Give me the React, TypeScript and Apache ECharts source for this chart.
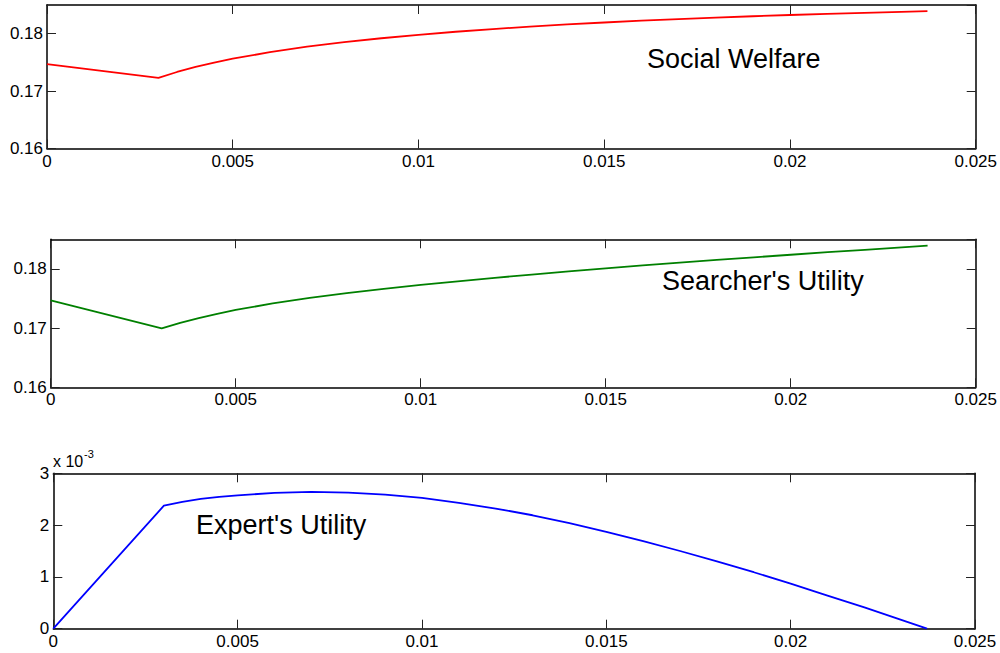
import React, { useEffect, useRef } from "react";
import * as echarts from "echarts";

// x values (cost parameter)
const xs = [0, 0.003, 0.0035, 0.004, 0.0045, 0.005, 0.006, 0.007, 0.008, 0.009, 0.010, 0.011, 0.012, 0.013, 0.014, 0.015, 0.016, 0.017, 0.018, 0.019, 0.020, 0.021, 0.022, 0.023, 0.0237];
const welfare = [0.17470, 0.17231, 0.17333, 0.17420, 0.17495, 0.17564, 0.17678, 0.17773, 0.17853, 0.17921, 0.17981, 0.18034, 0.18081, 0.18123, 0.18161, 0.18195, 0.18227, 0.18255, 0.18281, 0.18304, 0.18326, 0.18346, 0.18364, 0.18381, 0.18392];
const searcher = [0.17470, 0.16994, 0.17088, 0.17170, 0.17241, 0.17307, 0.17416, 0.17509, 0.17590, 0.17662, 0.17729, 0.17791, 0.17849, 0.17904, 0.17957, 0.18008, 0.18058, 0.18105, 0.18151, 0.18195, 0.18239, 0.18282, 0.18323, 0.18364, 0.18392];
const expert = [0, 0.002375, 0.00245, 0.002505, 0.002545, 0.002575, 0.002622, 0.00264, 0.002628, 0.00259, 0.002525, 0.00243, 0.00232, 0.00219, 0.00204, 0.00187, 0.00169, 0.00150, 0.00130, 0.00109, 0.00087, 0.00064, 0.00041, 0.00017, 0];

const labels = ["Social Welfare", "Searcher's Utility", "Expert's Utility"];
const colors = ["#ff0000", "#008000", "#0000ff"];

const FONT = "'Liberation Sans', Arial, Helvetica, sans-serif";

export default function App() {
  const ref = useRef<HTMLDivElement>(null);
  useEffect(() => {
    if (!ref.current) return;
    const chart = echarts.init(ref.current, null, { renderer: "svg" });
    const grids = [
      { left: 47, top: 5, width: 930, height: 143.5 },
      { left: 50.7, top: 239.3, width: 925, height: 148 },
      { left: 53.3, top: 473.3, width: 921.7, height: 155.4 },
    ];
    const yCfg = [
      { min: 0.16, max: 0.185, interval: 0.01, fmt: (v: number) => v.toFixed(2), showMax: false },
      { min: 0.16, max: 0.185, interval: 0.01, fmt: (v: number) => v.toFixed(2), showMax: false },
      { min: 0, max: 0.003, interval: 0.001, fmt: (v: number) => String(Math.round(v * 1000)), showMax: true },
    ];
    const lineStyle = { color: "#000", width: 1.5 };
    const tickStyle = { color: "#222", width: 1 };
    const xAxis: any[] = [];
    const yAxis: any[] = [];
    grids.forEach((g, i) => {
      ["bottom", "top"].forEach((pos, k) => {
        xAxis.push({
          type: "value",
          gridIndex: i,
          position: pos,
          min: 0,
          max: 0.025,
          interval: 0.005,
          axisLine: { show: true, onZero: false, lineStyle },
          axisTick: { show: true, inside: true, length: 9, lineStyle: tickStyle },
          axisLabel: {
            show: k === 0,
            margin: 4,
            fontSize: 17,
            color: "#000",
            fontFamily: FONT,
            formatter: (v: number) => String(parseFloat(v.toFixed(4))),
          },
          splitLine: { show: false },
        });
      });
      ["left", "right"].forEach((pos, k) => {
        const c = yCfg[i];
        yAxis.push({
          type: "value",
          gridIndex: i,
          position: pos,
          min: c.min,
          max: c.max,
          interval: c.interval,
          axisLine: { show: true, onZero: false, lineStyle },
          axisTick: { show: true, inside: true, length: 9, lineStyle: tickStyle },
          axisLabel: {
            show: k === 0,
            margin: 4,
            fontSize: 17,
            color: "#000",
            fontFamily: FONT,
            showMaxLabel: c.showMax,
            formatter: c.fmt,
          },
          splitLine: { show: false },
        });
      });
    });
    const datasets = [welfare, searcher, expert];
    const series = datasets.map((d, i) => ({
      type: "line",
      xAxisIndex: 2 * i,
      yAxisIndex: 2 * i,
      data: xs.map((x, j) => [x, d[j]]),
      showSymbol: false,
      symbol: "none",
      smooth: false,
      lineStyle: { color: colors[i], width: 1.8 },
      itemStyle: { color: colors[i] },
    }));
    chart.setOption({
      animation: false,
      backgroundColor: "#fff",
      grid: grids,
      xAxis,
      yAxis,
      series,
      graphic: [
        { type: "text", left: 647, top: 45, style: { text: labels[0], fontSize: 27, fontFamily: FONT, fill: "#000" } },
        { type: "text", left: 662, top: 267, style: { text: labels[1], fontSize: 27, fontFamily: FONT, fill: "#000" } },
        { type: "text", left: 196, top: 511, style: { text: labels[2], fontSize: 27, fontFamily: FONT, fill: "#000" } },
        { type: "text", left: 53, top: 453, style: { text: "x 10", fontSize: 16, fontFamily: FONT, fill: "#000" } },
        { type: "text", left: 84, top: 448, style: { text: "-3", fontSize: 11, fontFamily: FONT, fill: "#000" } },
      ],
    });
    return () => chart.dispose();
  }, []);
  return (
    <div
      ref={ref}
      style={{ position: "fixed", left: 0, top: 0, width: 1000, height: 653, background: "#fff" }}
    />
  );
}
